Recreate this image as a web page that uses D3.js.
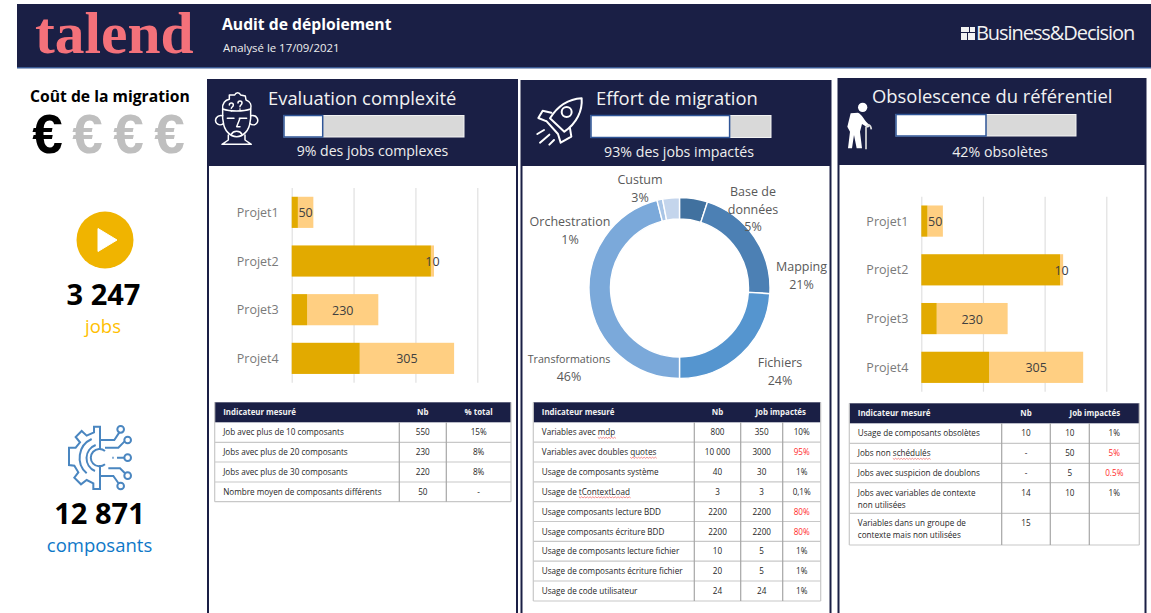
<!DOCTYPE html>
<html lang="fr">
<head>
<meta charset="utf-8">
<title>Audit de déploiement</title>
<script src="https://cdn.jsdelivr.net/npm/d3@7"></script>
<style>
  html, body { margin: 0; padding: 0; background: #fff; overflow: hidden; }
  svg { display: block; }
</style>
</head>
<body>
<div id="chart"></div>
<script>
// values
const projects = ["Projet1", "Projet2", "Projet3", "Projet4"];
const impactedJobs = [20, 450, 50, 220];
const otherJobs = [50, 10, 230, 305];
const barTicks = [0, 200, 400, 600];

const sliceNames = ["Base de données", "Mapping", "Fichiers", "Transformations", "Orchestration", "Custum"];
const sliceValues = [5, 21, 24, 46, 1, 3];
const sliceColors = ["#41719f", "#4c80b4", "#5595cf", "#7ba9da", "#a9c5e6", "#c4d5ec"];

const gaugeShares = [0.215, 0.77, 0.5];

const table1Head = ["Indicateur mesuré", "Nb", "% total"];
const table1Rows = [
  ["Job avec plus de 10 composants", "550", "15%"],
  ["Jobs avec plus de 20 composants", "230", "8%"],
  ["Jobs avec plus de 30 composants", "220", "8%"],
  ["Nombre moyen de composants différents", "50", "-"]
];
const table2Head = ["Indicateur mesuré", "Nb", "Job impactés"];
const table2Rows = [
  ["Variables avec mdp", "800", "350", "10%"],
  ["Variables avec doubles quotes", "10 000", "3000", "95%"],
  ["Usage de composants système", "40", "30", "1%"],
  ["Usage de tContextLoad", "3", "3", "0,1%"],
  ["Usage composants lecture BDD", "2200", "2200", "80%"],
  ["Usage composants écriture BDD", "2200", "2200", "80%"],
  ["Usage de composants lecture fichier", "10", "5", "1%"],
  ["Usage de composants écriture fichier", "20", "5", "1%"],
  ["Usage de code utilisateur", "24", "24", "1%"]
];
const table3Head = ["Indicateur mesuré", "Nb", "Job impactés"];
const table3Rows = [
  ["Usage de composants obsolètes", "10", "10", "1%"],
  ["Jobs non schédulés", "-", "50", "5%"],
  ["Jobs avec suspicion de doublons", "-", "5", "0.5%"],
  ["Jobs avec variables de contexte|non utilisées", "14", "10", "1%"],
  ["Variables dans un groupe de|contexte mais non utilisées", "15", "", ""]
];
const redCells = ["95%", "80%", "5%", "0.5%"];
const squiggly = ["mdp", "quotes", "tContextLoad", "schédulés"];

const navy = "#1a1f45";
const width = 1151, height = 613;

const svg = d3.select("#chart").append("svg")
  .attr("width", width)
  .attr("height", height)
  .attr("font-family", "'Open Sans', 'Noto Sans', sans-serif");

function label(g, x, y, str, size, color, opts) {
  opts = opts || {};
  return g.append("text")
    .attr("x", x).attr("y", y)
    .attr("font-size", size)
    .attr("fill", color)
    .attr("font-weight", opts.weight || 400)
    .attr("text-anchor", opts.anchor || "start")
    .attr("font-family", opts.family || null)
    .attr("letter-spacing", opts.spacing || null)
    .text(str);
}

// top banner
svg.append("rect").attr("x", 17).attr("y", 4).attr("width", 1134).attr("height", 63).attr("fill", navy);
svg.append("rect").attr("x", 17).attr("y", 67).attr("width", 1134).attr("height", 1.5).attr("fill", "#3a5a94");
label(svg, 35, 53, "talend", 59.5, "#f4717a", { weight: 700, family: "'Liberation Serif', serif" });
label(svg, 222, 30, "Audit de déploiement", 15.7, "#fff", { weight: 700 });
label(svg, 223, 52, "Analysé le 17/09/2021", 11.4, "#eee");
label(svg, 976, 40, "Business&Decision", 20, "#f2f2f2", { spacing: -1.06 });
[[961, 27, 8, 5], [970, 27, 5, 5], [961, 33, 6, 7], [968, 33, 7, 7]].forEach(r => {
  svg.append("rect").attr("x", r[0]).attr("y", r[1]).attr("width", r[2]).attr("height", r[3]).attr("fill", "#f2f2f2");
});

// left column
label(svg, 30, 102, "Coût de la migration", 15.7, "#000", { weight: 700 });
[47.5, 87.5, 128.5, 169.5].forEach((x, i) => {
  label(svg, x, 153, "€", 55, i === 0 ? "#000" : "#bfbfbf", { weight: 700, anchor: "middle", family: "'Liberation Sans', sans-serif" });
});
svg.append("circle").attr("cx", 105).attr("cy", 240).attr("r", 28.5).attr("fill", "#f0b400");
svg.append("path").attr("d", "M98 228.5 L117 240 L98 251.5 Z").attr("fill", "#fff")
  .attr("stroke", "#fff").attr("stroke-width", 1).attr("stroke-linejoin", "round");
label(svg, 103.5, 305, "3 247", 29, "#000", { weight: 700, anchor: "middle" });
label(svg, 103, 333, "jobs", 18.5, "#ffc000", { anchor: "middle" });
label(svg, 99.5, 524, "12 871", 29, "#000", { weight: 700, anchor: "middle" });
label(svg, 99.5, 552, "composants", 18.5, "#0e78c8", { anchor: "middle" });

// gear icon
const gear = svg.append("g")
  .attr("transform", "translate(55,415) scale(0.3333)")
  .attr("fill", "none").attr("stroke", "#4a86c0").attr("stroke-width", 6);
gear.append("path").attr("d", "M135 105 L135 35 L117 35 L117 52 L95 62 L80 48 L62 66 L75 82 L62 98 L42 98 L42 150 L58 152 L70 172 L58 188 L78 208 L95 195 L115 205 L115 222 L135 222 L135 150");
gear.append("path").attr("d", "M135 75 L178 75 L193 52 M150 98 L190 98 L208 80 M172 128 L176 128 M186 128 L208 128 M160 160 L195 160 L210 175 M135 183 L175 183 L190 204");
gear.append("path").attr("d", "M110 72 A62 62 0 0 0 95 175 M122 90 A42 42 0 0 0 120 168 M150 108 A26 26 0 1 0 150 148");
[[197, 43], [218, 75], [218, 128], [218, 182], [197, 213]].forEach(c => {
  gear.append("circle").attr("cx", c[0]).attr("cy", c[1]).attr("r", 10);
});

// panels
const panels = [
  { x: 208, y: 80, w: 309, headH: 86 },
  { x: 521.5, y: 81, w: 309, headH: 85 },
  { x: 838.5, y: 79, w: 307, headH: 86 }
];
panels.forEach(p => {
  svg.append("rect").attr("x", p.x).attr("y", p.y).attr("width", p.w).attr("height", height)
    .attr("fill", "#fff").attr("stroke", navy).attr("stroke-width", 2);
  svg.append("rect").attr("x", p.x).attr("y", p.y).attr("width", p.w).attr("height", p.headH).attr("fill", navy);
});

function gauge(x0, x1, y, h, share) {
  const x = d3.scaleLinear().domain([0, 1]).range([x0, x1]);
  svg.append("rect").attr("x", x(0)).attr("y", y).attr("width", x(1) - x(0)).attr("height", h)
    .attr("fill", "#d9d9d9").attr("stroke", "#f2f2f2");
  svg.append("rect").attr("x", x(0)).attr("y", y).attr("width", x(share) - x(0)).attr("height", h)
    .attr("fill", "#fff").attr("stroke", "#2f5597").attr("stroke-width", 1.5);
}

label(svg, 268, 105, "Evaluation complexité", 18.4, "#f2f2f2");
gauge(284, 464, 115.5, 21.5, gaugeShares[0]);
label(svg, 372.5, 156, "9% des jobs complexes", 14.1, "#eee", { anchor: "middle" });

label(svg, 596, 105, "Effort de migration", 18.4, "#f2f2f2");
gauge(591, 771, 115.5, 22, gaugeShares[1]);
label(svg, 679, 157, "93% des jobs impactés", 14.2, "#eee", { anchor: "middle" });

label(svg, 872, 103, "Obsolescence du référentiel", 18.4, "#f2f2f2");
gauge(896, 1076, 114.5, 21.5, gaugeShares[2]);
label(svg, 1000, 157, "42% obsolètes", 14.2, "#eee", { anchor: "middle" });

// head icon
const head = svg.append("g")
  .attr("transform", "translate(210,85) scale(0.3333)")
  .attr("fill", "none").attr("stroke", "#fff").attr("stroke-width", 4.5)
  .attr("stroke-linejoin", "round").attr("stroke-linecap", "round");
head.append("path").attr("d", "M38 100 L38 72 C36 55 46 45 58 43 L58 30 L74 30 C78 21 88 21 92 30 L106 33 L108 45 C122 50 125 62 122 72 L122 100 L120 112 C118 135 100 155 80 155 C60 155 42 135 40 112 Z");
head.append("path").attr("d", "M38 72 C60 80 100 80 122 72");
head.append("path").attr("d", "M38 92 C20 88 12 105 20 115 C26 122 35 120 40 116 M122 92 C140 88 148 105 140 115 C134 122 125 120 120 116");
head.append("path").attr("d", "M52 100 L72 100 M88 100 L110 100 M90 100 L80 125 L90 125 M64 148 C70 136 90 136 96 148");
head.append("path").attr("d", "M55 150 L55 165 L36 178 L124 178 L105 165 L105 150");
head.append("path").attr("d", "M58 60 C58 52 70 52 70 60 C70 66 64 66 64 70 M64 77 L64 78 M84 54 C84 46 96 46 96 54 C96 60 90 60 90 65 M90 72 L90 73");

// rocket icon
const rocket = svg.append("g")
  .attr("transform", "translate(530,90) scale(0.3333)")
  .attr("fill", "none").attr("stroke", "#fff").attr("stroke-width", 6)
  .attr("stroke-linejoin", "round").attr("stroke-linecap", "round");
rocket.append("path").attr("d", "M155 25 C158 62 140 100 103 125 L60 85 C85 45 120 27 155 25 Z");
rocket.append("circle").attr("cx", 110).attr("cy", 66).attr("r", 15);
rocket.append("path").attr("d", "M64 68 L38 62 L25 84 L50 94 M120 115 L124 140 L92 158 L84 132 M50 94 L84 132 M42 120 L22 132 M58 134 L30 158 M72 150 L58 164");

// old man icon
const oldMan = svg.append("g").attr("transform", "translate(840,90) scale(0.3333)").attr("fill", "#fff");
oldMan.append("circle").attr("cx", 68).attr("cy", 52).attr("r", 14);
oldMan.append("path").attr("d", "M32 70 L54 68 C66 72 72 92 90 106 L84 113 L66 102 L60 125 L66 175 L50 175 L42 135 L36 175 L24 175 L30 125 L22 110 Z");
oldMan.append("path").attr("d", "M78 178 L78 112 C82 102 92 102 94 118").attr("fill", "none").attr("stroke", "#ddd").attr("stroke-width", 5);

// stacked bars, same chart in panels 1 and 3
function drawBars(x0, x1, y0, y1) {
  const g = svg.append("g");
  const x = d3.scaleLinear().domain([0, 600]).range([x0, x1]);
  const y = d3.scaleBand().domain(projects).range([y0, y1]).paddingInner(0.36).paddingOuter(0.18);

  g.append("g")
    .attr("transform", `translate(0,${y0})`)
    .call(d3.axisBottom(x).tickValues(barTicks).tickSize(y1 - y0).tickSizeOuter(0).tickFormat(""))
    .call(a => a.select(".domain").remove())
    .call(a => a.selectAll("line").attr("stroke", "#e0e0e0").attr("stroke-width", 1.2));

  g.selectAll("rect.light").data(projects).join("rect")
    .attr("class", "light")
    .attr("x", (d, i) => x(impactedJobs[i]))
    .attr("y", d => y(d))
    .attr("width", (d, i) => x(impactedJobs[i] + otherJobs[i]) - x(impactedJobs[i]))
    .attr("height", y.bandwidth())
    .attr("fill", "#ffcf82");
  g.selectAll("rect.dark").data(projects).join("rect")
    .attr("class", "dark")
    .attr("x", x(0))
    .attr("y", d => y(d))
    .attr("width", (d, i) => x(impactedJobs[i]) - x(0))
    .attr("height", y.bandwidth())
    .attr("fill", "#e2aa00");
  g.selectAll("text.val").data(projects).join("text")
    .attr("class", "val")
    .attr("x", (d, i) => x(impactedJobs[i] + otherJobs[i] / 2))
    .attr("y", d => y(d) + y.bandwidth() / 2 + 5)
    .attr("text-anchor", "middle")
    .attr("font-size", 12.5)
    .attr("fill", "#404040")
    .text((d, i) => otherJobs[i]);

  g.append("g")
    .attr("transform", `translate(${x0},0)`)
    .call(d3.axisLeft(y).tickSize(0).tickPadding(13))
    .call(a => a.select(".domain").remove())
    .call(a => a.selectAll("text").attr("font-size", 12.5).attr("fill", "#7a7a7a").attr("dy", "0.36em")
      .attr("font-family", "'Open Sans', sans-serif"));
}
drawBars(291.7, 477.3, 188, 382.7);
drawBars(921.3, 1106.3, 196.7, 391.7);

// donut
const pie = d3.pie().sort(null)(sliceValues);
const arc = d3.arc().innerRadius(69).outerRadius(90.5);
const donut = svg.append("g").attr("transform", "translate(679.5,288)");
donut.selectAll("path").data(pie).join("path")
  .attr("d", arc)
  .attr("fill", (d, i) => sliceColors[i])
  .attr("stroke", "#fff")
  .attr("stroke-width", 1.4);

const sliceLabels = [
  { lines: ["Base de", "données", sliceValues[0] + "%"], x: 753, y: [195.7, 213.7, 230.7] },
  { lines: [sliceNames[1], sliceValues[1] + "%"], x: 801.5, y: [270.7, 288.5] },
  { lines: [sliceNames[2], sliceValues[2] + "%"], x: 780, y: [366.7, 384.5] },
  { lines: [sliceNames[3], sliceValues[3] + "%"], x: 569, y: [363, 381], size: 10.7 },
  { lines: [sliceNames[4], sliceValues[4] + "%"], x: 570, y: [225.7, 243.7] },
  { lines: [sliceNames[5], sliceValues[5] + "%"], x: 640, y: [184, 201.7] }
];
sliceLabels.forEach(s => {
  s.lines.forEach((t, i) => {
    const isPct = t.endsWith("%");
    label(svg, s.x, s.y[i], t, isPct ? 12.5 : (s.size || 12.5), "#595959", { anchor: "middle" });
  });
});

// tables
function drawTable(cols, rowY, head, rows) {
  const g = svg.append("g");
  const x0 = cols[0], xN = cols[cols.length - 1];
  const y0 = rowY[0], yN = rowY[rowY.length - 1];
  g.append("rect").attr("x", x0).attr("y", y0).attr("width", xN - x0).attr("height", rowY[1] - y0).attr("fill", navy);
  rowY.slice(2).forEach(yy => {
    g.append("line").attr("x1", x0).attr("x2", xN).attr("y1", yy).attr("y2", yy)
      .attr("stroke", "#c8c8c8").attr("stroke-width", 1.2);
  });
  cols.forEach((c, i) => {
    const edge = i === 0 || i === cols.length - 1;
    g.append("line").attr("x1", c).attr("x2", c).attr("y1", edge ? y0 : rowY[1]).attr("y2", yN)
      .attr("stroke", edge ? "#c8c8c8" : "#a6a6a6").attr("stroke-width", 1.2);
  });
  const mid = (a, b) => (a + b) / 2;
  label(g, x0 + 8.5, y0 + 13, head[0], 7.9, "#f2f2f2", { weight: 700 });
  label(g, mid(cols[1], cols[2]), y0 + 13, head[1], 7.9, "#f2f2f2", { weight: 700, anchor: "middle" });
  label(g, mid(cols[2], xN), y0 + 13, head[2], 7.9, "#f2f2f2", { weight: 700, anchor: "middle" });

  rows.forEach((row, r) => {
    const top = rowY[r + 1];
    const lines = row[0].split("|");
    lines.forEach((ln, k) => {
      const ty = top + 13 + k * 12;
      const t = label(g, x0 + 8.5, ty, ln, 8.15, "#262626");
      // spell-check squiggle under the flagged word
      const word = squiggly.find(w => ln.endsWith(w));
      if (word) {
        const node = t.node();
        const start = node.getSubStringLength(0, ln.length - word.length);
        const w = node.getSubStringLength(ln.length - word.length, word.length);
        const pts = d3.range(0, Math.ceil(w / 1.4) + 1).map(n => [x0 + 8.5 + start + n * 1.4, ty + 2 + (n % 2) * 1.1]);
        g.append("path").attr("d", d3.line()(pts)).attr("fill", "none").attr("stroke", "#e44").attr("stroke-width", 0.6);
      }
    });
    row.slice(1).forEach((cell, c) => {
      const isRed = redCells.includes(cell) && c === row.length - 2;
      label(g, mid(cols[c + 1], cols[c + 2]), top + 13, cell, 8.15, isRed ? "#ff2a2a" : "#262626", { anchor: "middle" });
    });
  });
}
drawTable([214.7, 399.3, 446.3, 511], [402.3, 422.3, 442.3, 462, 482, 501.7], table1Head, table1Rows);
drawTable([533.3, 694.3, 740.7, 782.7, 820.7],
  [402.3, 422.3, 442.2, 462, 481.8, 501.7, 521.5, 541.4, 561.2, 581, 601], table2Head, table2Rows);
drawTable([849.3, 1001.7, 1050.3, 1089.3, 1139.3], [403.3, 423.3, 443.3, 463.3, 482.7, 513.3, 545], table3Head, table3Rows);
</script>
</body>
</html>
